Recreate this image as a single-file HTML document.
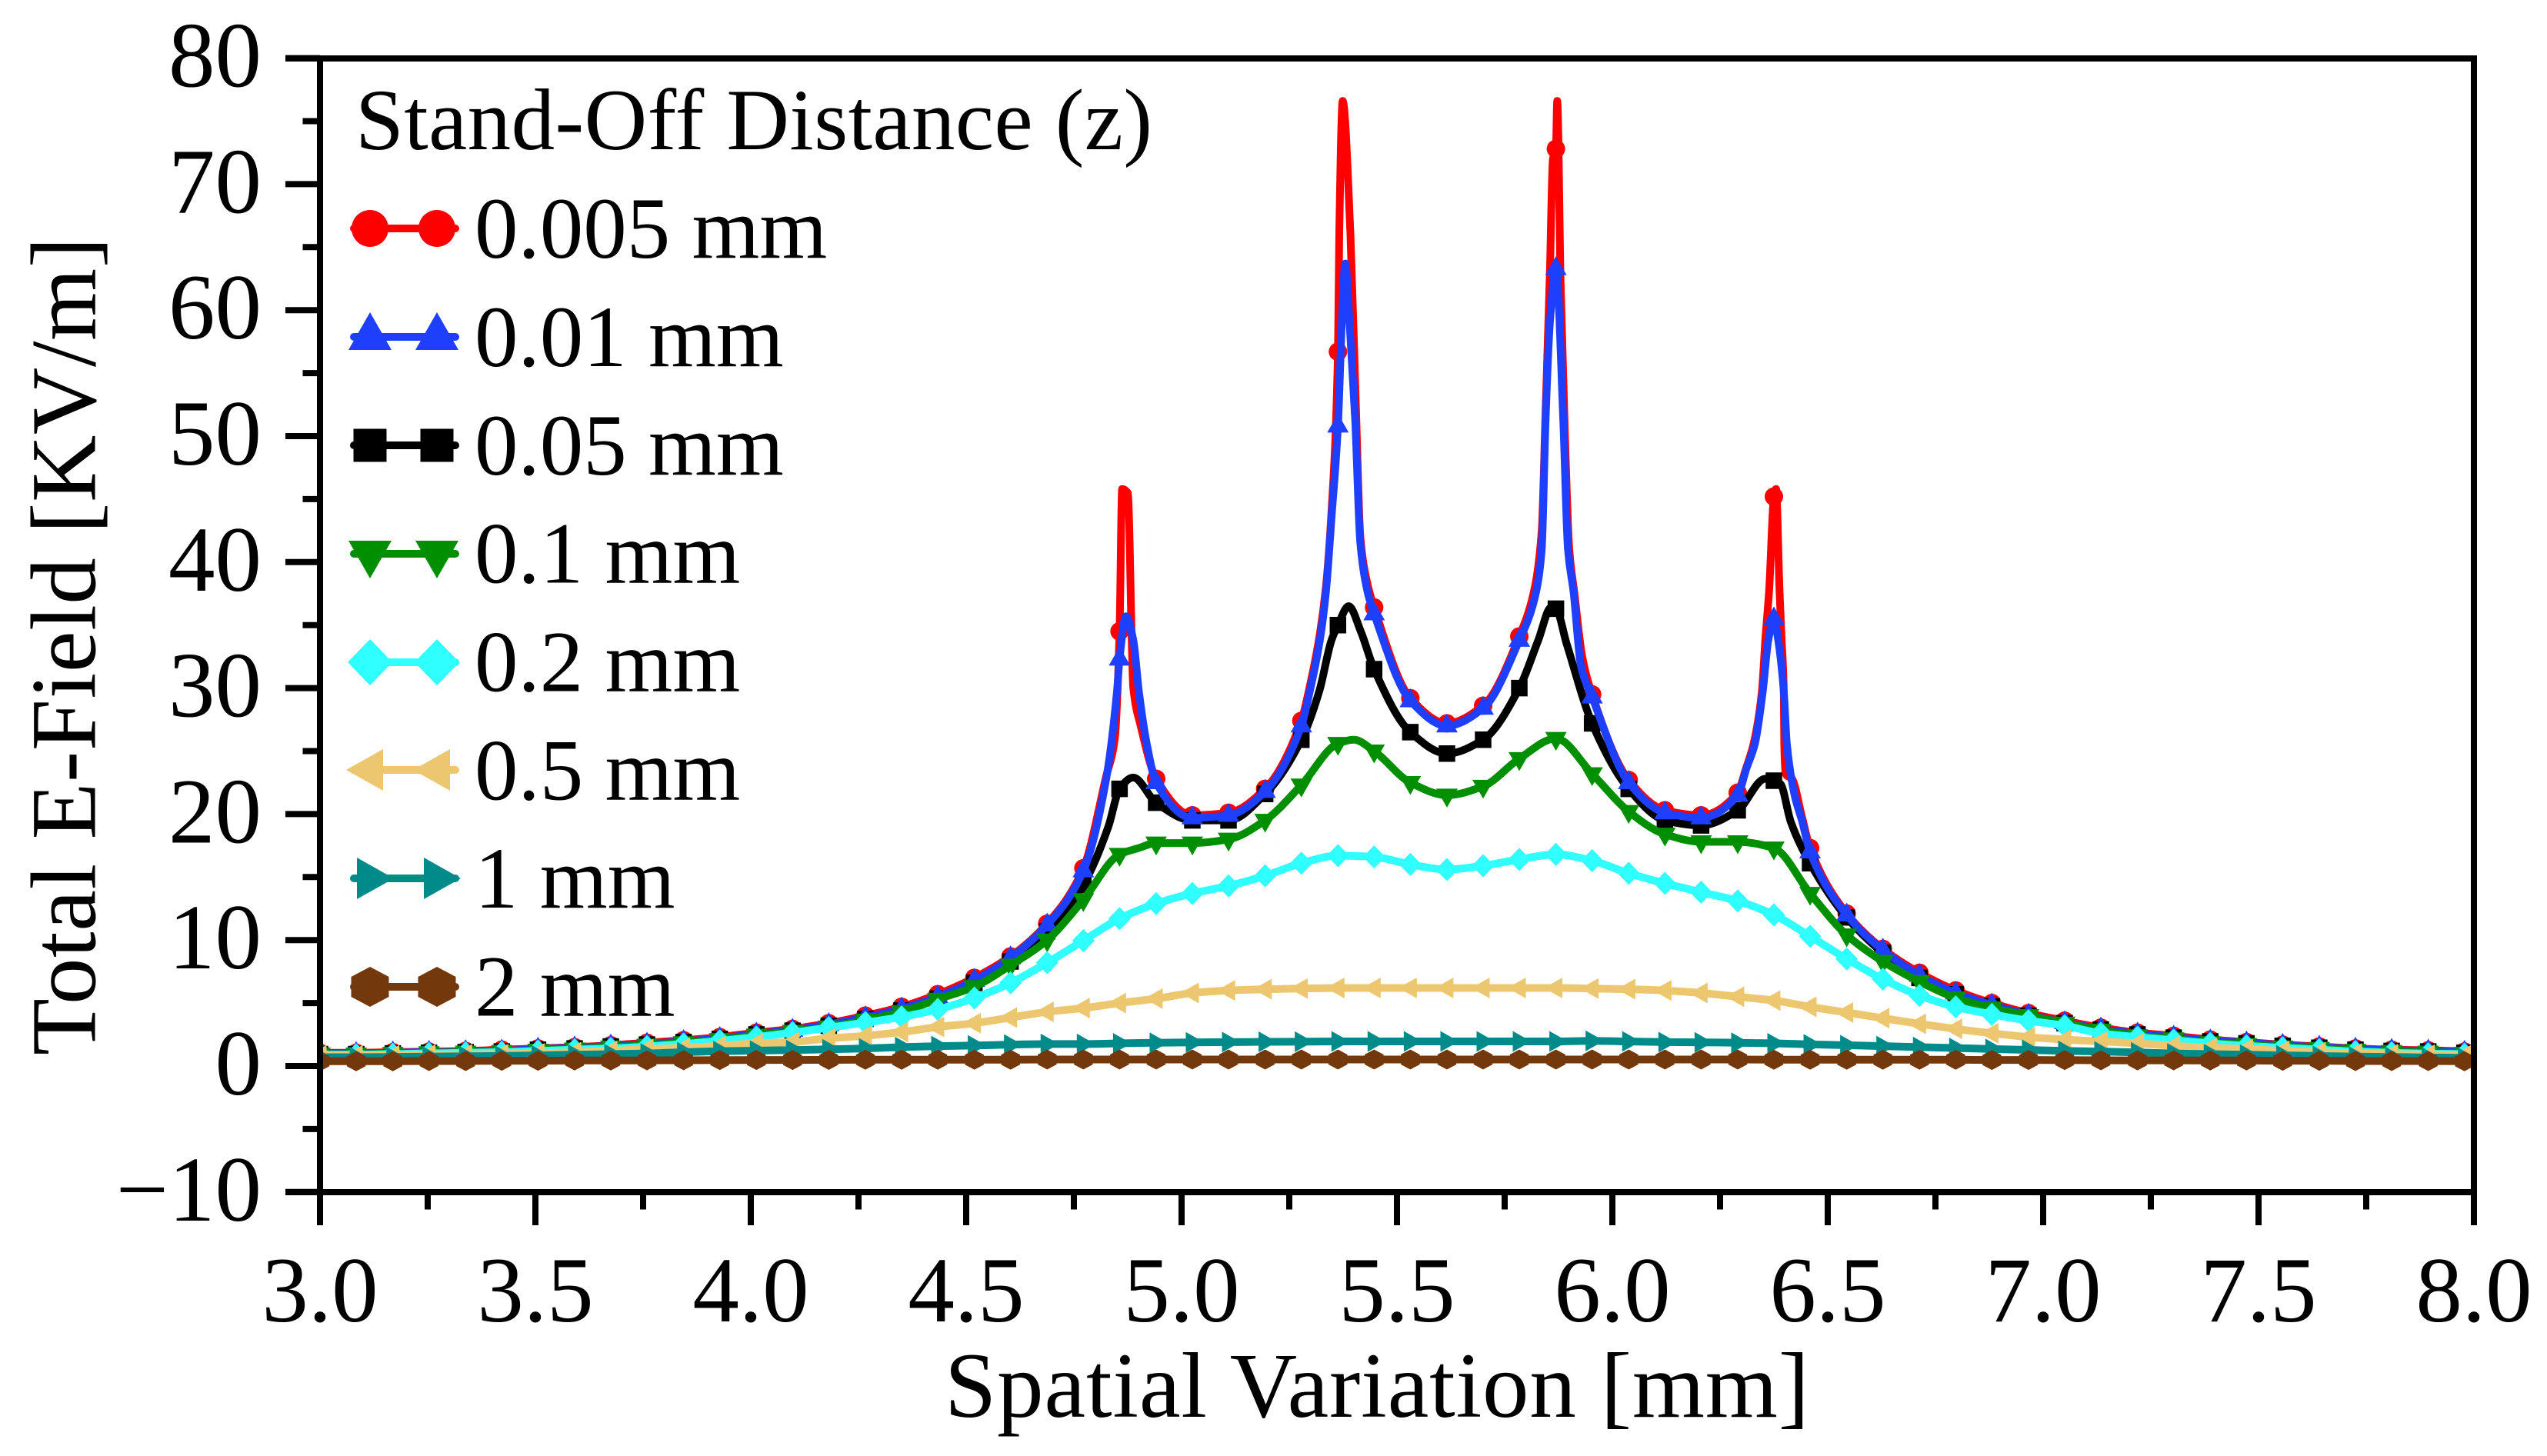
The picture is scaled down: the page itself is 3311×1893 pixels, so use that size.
<!DOCTYPE html>
<html lang="en">
<head>
<meta charset="utf-8">
<title>Total E-Field vs Spatial Variation</title>
<style>
html,body{margin:0;padding:0;background:#fff;}
svg{display:block;}
text{font-family:"Liberation Serif",serif;fill:#000;}
</style>
</head>
<body>
<svg id="chart" xmlns="http://www.w3.org/2000/svg" width="3311" height="1893" viewBox="0 0 3311 1893">
  <rect x="0" y="0" width="3311" height="1893" fill="#fff"/>
  <defs>
    <clipPath id="plot-clip"><rect x="416" y="76" width="2800" height="1474"/></clipPath>
  </defs>
  <g id="series-layer" clip-path="url(#plot-clip)"></g>
  <g id="axes-layer"></g>
  <g id="tick-layer"></g>
  <g id="legend-layer"></g>

  <text transform="translate(123.5,1372) rotate(-90)" font-size="121" textLength="1064" lengthAdjust="spacing">Total E-Field [KV/m]</text>
  <text x="1228" y="1842" font-size="121" textLength="1124" lengthAdjust="spacing">Spatial Variation [mm]</text>

  <g font-size="113">
    <text x="462" y="194" textLength="1036" lengthAdjust="spacing">Stand-Off Distance (z)</text>
    <text x="617" y="335">0.005 mm</text>
    <text x="617" y="476">0.01 mm</text>
    <text x="617" y="617">0.05 mm</text>
    <text x="617" y="757.5">0.1 mm</text>
    <text x="617" y="898.5">0.2 mm</text>
    <text x="617" y="1039.5">0.5 mm</text>
    <text x="617" y="1180">1 mm</text>
    <text x="617" y="1320.5">2 mm</text>
  </g>
</svg>

<script>
// ---- data (x in mm, y in KV/m) ----
const markerX = [3.000,3.084,3.169,3.253,3.338,3.422,3.506,3.591,3.675,3.759,3.844,3.928,4.013,4.097,4.181,4.266,4.350,4.434,4.519,4.603,4.688,4.772,4.856,4.941,5.025,5.109,5.194,5.278,5.363,5.447,5.531,5.616,5.700,5.784,5.869,5.953,6.038,6.122,6.206,6.291,6.375,6.459,6.544,6.628,6.713,6.797,6.881,6.966,7.050,7.134,7.219,7.303,7.388,7.472,7.556,7.641,7.725,7.809,7.894,7.978];

const red005 = [1.05,1.05,1.1,1.15,1.2,1.3,1.4,1.5,1.65,1.85,2.05,2.3,2.65,2.95,3.4,4.0,4.7,5.7,7.0,8.7,11.3,15.7,34.5,22.8,19.9,20.1,22.0,27.4,56.7,36.4,29.2,27.2,28.6,34.1,72.8,29.5,22.7,20.3,19.9,21.7,45.2,17.3,12.1,9.3,7.4,6.0,5.0,4.2,3.6,3.05,2.65,2.4,2.1,1.9,1.7,1.55,1.4,1.3,1.25,1.15];
const blue01 = [1.0,1.0,1.05,1.1,1.15,1.2,1.35,1.45,1.6,1.75,1.95,2.2,2.55,2.85,3.3,3.85,4.55,5.5,6.8,8.6,11.2,15.5,32.3,22.5,19.7,19.9,21.8,27.0,50.8,35.9,29.0,27.0,28.4,33.8,63.3,29.3,22.5,20.1,19.7,21.5,35.5,17.0,12.0,9.2,7.2,5.8,4.85,4.05,3.45,2.95,2.55,2.3,2.0,1.85,1.65,1.5,1.35,1.25,1.2,1.1];
const black05 = [0.95,0.95,1.0,1.05,1.1,1.15,1.3,1.4,1.55,1.7,1.9,2.15,2.5,2.8,3.2,3.75,4.4,5.35,6.6,8.3,10.7,14.4,22.0,20.9,19.5,19.5,21.6,25.9,35.0,31.5,26.5,24.8,25.9,30.0,36.3,27.2,22.0,19.5,19.1,20.3,22.65,16.1,11.8,9.0,7.0,5.7,4.75,4.0,3.4,2.9,2.5,2.25,1.95,1.8,1.6,1.45,1.3,1.2,1.15,1.05];
const green1 = [0.95,0.95,1.0,1.05,1.1,1.15,1.25,1.35,1.5,1.65,1.85,2.1,2.45,2.75,3.1,3.65,4.3,5.3,6.3,8.0,10.0,13.2,16.8,17.7,17.7,18.0,19.5,22.3,25.6,25.0,22.5,21.5,22.2,24.4,26.0,23.2,20.2,18.4,17.8,17.8,17.3,13.7,10.4,8.3,6.7,5.4,4.6,4.0,3.4,2.85,2.4,2.15,1.85,1.7,1.5,1.4,1.25,1.15,1.1,1.0];
const cyan2 = [0.9,0.9,0.95,1.0,1.05,1.1,1.2,1.3,1.4,1.55,1.75,2.0,2.3,2.65,3.05,3.45,3.9,4.5,5.4,6.6,8.2,9.95,11.7,12.9,13.7,14.3,15.1,16.1,16.7,16.6,16.0,15.6,15.9,16.4,16.8,16.3,15.3,14.5,13.8,13.1,12.0,10.3,8.5,6.9,5.6,4.7,4.1,3.6,3.2,2.6,2.3,2.05,1.8,1.6,1.45,1.3,1.15,1.05,0.98,0.95];
const tan5 = [0.85,0.85,0.85,0.9,0.92,0.95,1.0,1.1,1.2,1.35,1.45,1.6,1.8,1.9,2.2,2.4,2.7,3.1,3.4,3.85,4.3,4.6,5.0,5.35,5.8,6.0,6.1,6.15,6.2,6.2,6.2,6.2,6.2,6.2,6.2,6.15,6.1,6.0,5.8,5.5,5.2,4.7,4.25,3.8,3.35,2.95,2.6,2.3,2.1,1.95,1.8,1.6,1.45,1.35,1.2,1.1,1.0,0.95,0.9,0.85];
const teal10 = [0.7,0.7,0.72,0.75,0.78,0.8,0.85,0.9,0.95,1.0,1.1,1.18,1.22,1.27,1.33,1.4,1.5,1.58,1.63,1.7,1.75,1.75,1.8,1.85,1.88,1.9,1.92,1.93,1.95,1.95,1.95,1.95,1.95,1.95,1.95,2.0,1.95,1.9,1.88,1.85,1.8,1.72,1.65,1.58,1.5,1.43,1.35,1.28,1.2,1.15,1.08,1.0,0.95,0.9,0.85,0.8,0.75,0.72,0.68,0.65];
const brown20 = [0.38,0.38,0.38,0.4,0.4,0.42,0.42,0.44,0.44,0.45,0.46,0.47,0.48,0.48,0.49,0.5,0.5,0.5,0.5,0.5,0.52,0.52,0.52,0.52,0.52,0.52,0.52,0.52,0.52,0.52,0.52,0.52,0.52,0.52,0.52,0.52,0.52,0.52,0.52,0.52,0.5,0.5,0.5,0.5,0.5,0.5,0.48,0.48,0.47,0.46,0.45,0.45,0.44,0.44,0.42,0.42,0.4,0.4,0.4,0.38];

// samples between markers (peak detail and the line end at 8.0 mm)
const red005BetweenX = [4.825,4.845,4.862,4.875,4.888,4.905,5.298,5.321,5.335,5.348,5.366,5.374,5.392,5.405,5.415,5.432,5.82,5.836,5.845,5.855,5.862,5.872,5.88,5.89,5.9,5.912,5.93,6.31,6.328,6.347,6.355,6.364,6.38,6.388,6.393,6.398,6.399,6.402,6.417,6.44,8.0];
const red005BetweenY = [23,26,45.8,45.5,30,27,30.2,34.3,38,44,66,76.6,66,52,42,38.2,38,42.5,52,63,72,76.6,62,50,41,37.5,32.5,23.6,25.6,29.7,33.8,37.8,45.8,37.8,33.8,29.7,25.6,23.2,22.8,19.8,1.1];
const blue01BetweenX = [4.825,4.85,4.871,4.888,4.901,4.919,5.298,5.321,5.335,5.348,5.372,5.38,5.39,5.403,5.415,5.432,5.82,5.836,5.845,5.855,5.886,5.897,5.91,5.927,6.311,6.331,6.349,6.362,6.385,6.398,6.405,6.423,6.44,8.0];
const blue01BetweenY = [22.8,29.7,35.7,33.8,29.7,25.6,29.8,33.8,37.6,43.5,59,63.7,59,51.3,41.5,37.6,37.2,41,51.3,59,51.3,41,37.6,31.8,23.6,25.6,29.7,33.8,33.8,29.7,25.6,21.5,19.5,1.05];
const black05BetweenX = [4.83,4.888,5.32,5.348,5.388,5.416,5.828,5.858,5.894,6.355,6.39,6.414,8.0];
const black05BetweenY = [19,22.9,29.8,33.8,36.5,34.5,33.8,36.4,33.5,22.8,22.4,19.4,1.0];
const green1BetweenX = [4.9,5.4,8.0];
const green1BetweenY = [17.3,25.9,0.95];
const cyan2BetweenX = [8.0];
const cyan2BetweenY = [0.92];
const tan5BetweenX = [8.0];
const tan5BetweenY = [0.82];
const teal10BetweenX = [8.0];
const teal10BetweenY = [0.62];
const brown20BetweenX = [8.0];
const brown20BetweenY = [0.38];

const seriesLabels = ['0.005 mm','0.01 mm','0.05 mm','0.1 mm','0.2 mm','0.5 mm','1 mm','2 mm'];
const xTickLabels = ['3.0','3.5','4.0','4.5','5.0','5.5','6.0','6.5','7.0','7.5','8.0'];
const xTickValues = [3,3.5,4,4.5,5,5.5,6,6.5,7,7.5,8];
const xMinorValues = [3.25,3.75,4.25,4.75,5.25,5.75,6.25,6.75,7.25,7.75];
const yTickLabels = ['\u221210','0','10','20','30','40','50','60','70','80'];
const yTickValues = [-10,0,10,20,30,40,50,60,70,80];
const yMinorValues = [-5,5,15,25,35,45,55,65,75];

// ---- axis functions ----
const xScale = v => 416 + (v - 3) * 560;
const yScale = v => 1386 - v * 16.38;

const NS = 'http://www.w3.org/2000/svg';
function make(parent, tag, attrs) {
  const el = document.createElementNS(NS, tag);
  for (const k in attrs) el.setAttribute(k, attrs[k]);
  parent.appendChild(el);
  return el;
}

const shapes = {
  circle: s => { const r = 24*s; return `M${-r},0A${r},${r} 0 1 0 ${r},0A${r},${r} 0 1 0 ${-r},0Z`; },
  up: s => `M0,${-32*s}L${28*s},${17*s}L${-28*s},${17*s}Z`,
  square: s => `M${-21.5*s},${-21.5*s}H${21.5*s}V${21.5*s}H${-21.5*s}Z`,
  down: s => `M0,${32*s}L${28*s},${-17*s}L${-28*s},${-17*s}Z`,
  diamond: s => `M0,${-30*s}L${29*s},0L0,${30*s}L${-29*s},0Z`,
  left: s => `M${-31*s},0L${17*s},${-27*s}L${17*s},${27*s}Z`,
  right: s => `M${31*s},0L${-17*s},${-27*s}L${-17*s},${27*s}Z`,
  hexagon: s => `M0,${-26*s}L${24.5*s},${-13*s}L${24.5*s},${13*s}L0,${26*s}L${-24.5*s},${13*s}L${-24.5*s},${-13*s}Z`
};

// monotone cubic path through sorted pixel points
function monotonePath(pts) {
  const n = pts.length, dx = [], dy = [], m = [], t = [];
  for (let i = 0; i < n - 1; i++) {
    dx[i] = pts[i+1][0] - pts[i][0];
    dy[i] = pts[i+1][1] - pts[i][1];
    m[i] = dy[i] / dx[i];
  }
  t[0] = m[0]; t[n-1] = m[n-2];
  for (let i = 1; i < n - 1; i++) {
    if (m[i-1] * m[i] <= 0) t[i] = 0;
    else {
      const w1 = 2*dx[i] + dx[i-1], w2 = dx[i] + 2*dx[i-1];
      t[i] = (w1 + w2) / (w1 / m[i-1] + w2 / m[i]);
    }
  }
  let d = `M${pts[0][0].toFixed(2)},${pts[0][1].toFixed(2)}`;
  for (let i = 0; i < n - 1; i++) {
    const h = dx[i] / 3;
    d += `C${(pts[i][0]+h).toFixed(2)},${(pts[i][1]+t[i]*h).toFixed(2)} ${(pts[i+1][0]-h).toFixed(2)},${(pts[i+1][1]-t[i+1]*h).toFixed(2)} ${pts[i+1][0].toFixed(2)},${pts[i+1][1].toFixed(2)}`;
  }
  return d;
}

const seriesList = [
  {key:'0-005-mm', color:'#ff0000', shape:'circle', values:red005, bx:red005BetweenX, by:red005BetweenY},
  {key:'0-01-mm', color:'#1f3fff', shape:'up', values:blue01, bx:blue01BetweenX, by:blue01BetweenY},
  {key:'0-05-mm', color:'#000000', shape:'square', values:black05, bx:black05BetweenX, by:black05BetweenY},
  {key:'0-1-mm', color:'#008f00', shape:'down', values:green1, bx:green1BetweenX, by:green1BetweenY},
  {key:'0-2-mm', color:'#2fffff', shape:'diamond', values:cyan2, bx:cyan2BetweenX, by:cyan2BetweenY},
  {key:'0-5-mm', color:'#ecc76f', shape:'left', values:tan5, bx:tan5BetweenX, by:tan5BetweenY},
  {key:'1-mm', color:'#008b8b', shape:'right', values:teal10, bx:teal10BetweenX, by:teal10BetweenY},
  {key:'2-mm', color:'#73380c', shape:'hexagon', values:brown20, bx:brown20BetweenX, by:brown20BetweenY}
];
const drawOrder = [0,2,1,3,4,5,6,7];

const seriesLayer = document.getElementById('series-layer');
drawOrder.forEach(idx => {
  const s = seriesList[idx];
  const g = make(seriesLayer, 'g', {});
  
  
  const raw = markerX.map((x, i) => [x, s.values[i]]).concat(s.bx.map((x, i) => [x, s.by[i]]));
  raw.sort((a, b) => a[0] - b[0]);
  const pts = raw.map(p => [xScale(p[0]), yScale(p[1])]);
  const line = make(g, 'path', {d: monotonePath(pts), fill:'none', stroke:s.color, 'stroke-width':10, 'stroke-linejoin':'round', 'stroke-linecap':'round'});
  
  
  markerX.forEach((x, i) => {
    const mark = make(g, 'path', {d: shapes[s.shape](0.5), fill:s.color, transform:`translate(${xScale(x).toFixed(2)},${yScale(s.values[i]).toFixed(2)})`});
    
    
  });
});

// ---- axes ----
const axes = document.getElementById('axes-layer');
const axisSegments = [
  ['top-spine', 371, 76, 3220, 76],
  ['bottom-spine', 371, 1550, 3220, 1550],
  ['left-spine', 416, 72, 416, 1593],
  ['right-spine', 3216, 72, 3216, 1593]
];
axisSegments.forEach(a => {
  const l = make(axes, 'line', {x1:a[1], y1:a[2], x2:a[3], y2:a[4], stroke:'#000', 'stroke-width':8});
  
  
});
yTickValues.forEach(v => {
  const l = make(axes, 'line', {x1:371, x2:416, y1:yScale(v), y2:yScale(v), stroke:'#000', 'stroke-width':8});
  
  
});
yMinorValues.forEach(v => {
  const l = make(axes, 'line', {x1:393.5, x2:416, y1:yScale(v), y2:yScale(v), stroke:'#000', 'stroke-width':8});
  
  
});
xTickValues.forEach(v => {
  const l = make(axes, 'line', {x1:xScale(v), x2:xScale(v), y1:1550, y2:1593, stroke:'#000', 'stroke-width':8});
  
  
});
xMinorValues.forEach(v => {
  const l = make(axes, 'line', {x1:xScale(v), x2:xScale(v), y1:1550, y2:1572.5, stroke:'#000', 'stroke-width':8});
  
  
});

// ---- tick labels ----
const tickLayer = document.getElementById('tick-layer');
xTickValues.forEach((v, i) => {
  const t = make(tickLayer, 'text', {x:xScale(v), y:1718, 'font-size':121, 'text-anchor':'middle'});
  t.textContent = xTickLabels[i];
  
  
});
yTickValues.forEach((v, i) => {
  const t = make(tickLayer, 'text', {x:340, y:yScale(v) + 37, 'font-size':121, 'text-anchor':'end'});
  t.textContent = yTickLabels[i];
  
  
});

// ---- legend symbols ----
const legendLayer = document.getElementById('legend-layer');
const legendRowY = [297, 438, 579, 720, 861, 1001, 1142, 1283];
seriesList.forEach((s, i) => {
  const g = make(legendLayer, 'g', {});
  
  
  const ly = legendRowY[i];
  const l = make(g, 'line', {x1:460, x2:592, y1:ly, y2:ly, stroke:s.color, 'stroke-width':10, 'stroke-linecap':'round'});
  
  
  [481, 568].forEach(mx => {
    const m = make(g, 'path', {d: shapes[s.shape](1), fill:s.color, transform:`translate(${mx},${ly})`});
    
    
  });
});
</script>
</body>
</html>
